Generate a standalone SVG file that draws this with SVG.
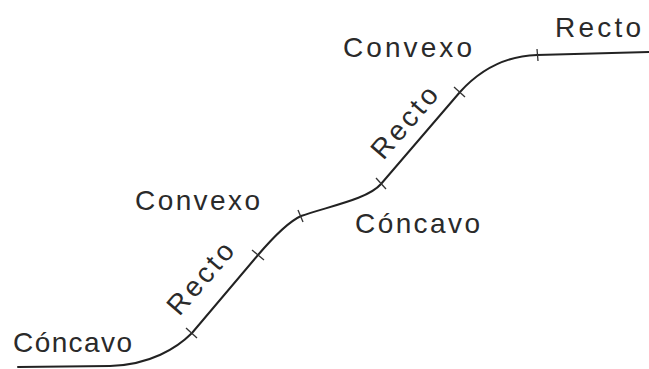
<svg xmlns="http://www.w3.org/2000/svg" width="649" height="369" viewBox="0 0 649 369">
<style>
.lbl{font-family:"Liberation Sans",Arial,sans-serif;font-size:28px;fill:#2a2a2a}
.curve{fill:none;stroke:#222;stroke-width:2;stroke-linecap:round;stroke-linejoin:round}
.tick{stroke:#333;stroke-width:1.3}
</style>
<rect width="649" height="369" fill="#fff"/>
<g id="connectors">
<path class="curve" d="M18,367 L110,366 C150,365 177,348 192,333 L258,255 C270,241 288,222 301,216 C330,206 368,199 381,184 L460,92 C480,70 505,56 537,55 L649,52"/>
<g id="ticks">
<line class="tick" x1="186" y1="328" x2="197" y2="338"/>
<line class="tick" x1="252" y1="250" x2="264" y2="260"/>
<line class="tick" x1="298" y1="210" x2="303" y2="222"/>
<line class="tick" x1="376" y1="178" x2="386" y2="189"/>
<line class="tick" x1="454" y1="87" x2="465" y2="97"/>
<line class="tick" x1="537" y1="49" x2="538" y2="61"/>
</g>
</g>
<g id="concavo1"><text class="lbl" x="13" y="352" textLength="119" lengthAdjust="spacing">Cóncavo</text></g>
<g id="recto1"><text class="lbl" transform="translate(200,278) rotate(-49)" x="0" y="10" text-anchor="middle" textLength="86" lengthAdjust="spacing">Recto</text></g>
<g id="convexo1"><text class="lbl" x="135" y="210" textLength="125" lengthAdjust="spacing">Convexo</text></g>
<g id="concavo2"><text class="lbl" x="355" y="233" textLength="125" lengthAdjust="spacing">Cóncavo</text></g>
<g id="recto2"><text class="lbl" transform="translate(404,122) rotate(-49)" x="0" y="10" text-anchor="middle" textLength="86" lengthAdjust="spacing">Recto</text></g>
<g id="convexo2"><text class="lbl" x="343" y="57" textLength="129" lengthAdjust="spacing">Convexo</text></g>
<g id="recto3"><text class="lbl" x="555" y="37" textLength="86" lengthAdjust="spacing">Recto</text></g>
</svg>
